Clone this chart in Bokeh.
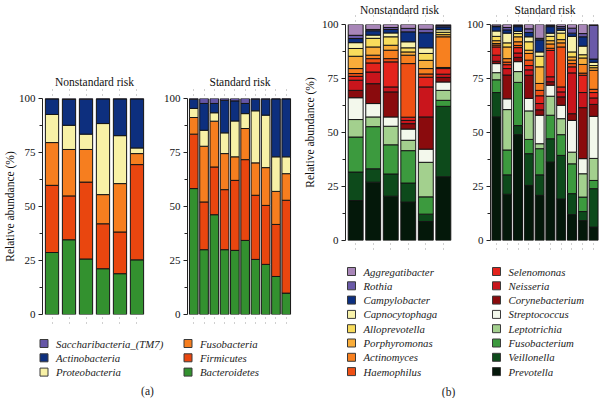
from bokeh.plotting import figure
from bokeh.models import Range1d, FixedTicker, LinearAxis, ColumnDataSource
from bokeh.layouts import row, column
from bokeh.embed import file_html
from bokeh.resources import INLINE
from bokeh.core.properties import value

FONT = "'Liberation Serif', 'DejaVu Serif', serif"

# Samples: 6 nonstandard-risk children followed by 10 standard-risk children
n_nonstandard = 6
n_standard = 10

# ---- (a) phylum level, relative abundance (%) ----
bacteroidetes = [28.7, 34.6, 25.7, 21.2, 18.9, 25.3, 58.3, 30.0, 46.2, 30.0, 29.7, 34.3, 25.5, 23.2, 17.6, 9.9]
firmicutes = [31.1, 20.3, 35.6, 20.8, 19.3, 44.1, 25.2, 22.1, 22.1, 27.8, 32.4, 37.4, 29.7, 27.3, 24.1, 43.0]
fusobacteria = [19.8, 21.5, 15.1, 13.5, 22.4, 5.1, 7.7, 25.8, 21.2, 16.7, 10.9, 14.4, 15.0, 17.5, 15.3, 12.3]
proteobacteria = [13.0, 11.2, 7.1, 32.9, 22.2, 2.6, 4.2, 7.4, 3.9, 9.6, 16.6, 6.9, 24.1, 24.3, 16.0, 7.8]
actinobacteria = [7.2, 12.0, 16.2, 11.4, 17.0, 22.7, 4.3, 12.4, 4.3, 15.1, 9.3, 4.7, 5.4, 7.4, 26.8, 26.8]
saccharibacteria = [0.2, 0.4, 0.3, 0.2, 0.2, 0.2, 0.3, 2.3, 2.3, 0.8, 1.1, 2.3, 0.3, 0.3, 0.2, 0.2]

phyla = ["Bacteroidetes", "Firmicutes", "Fusobacteria", "Proteobacteria",
         "Actinobacteria", "Saccharibacteria_(TM7)"]
phyla_values = [bacteroidetes, firmicutes, fusobacteria, proteobacteria,
                actinobacteria, saccharibacteria]
phyla_colors = ["#33912f", "#e9460f", "#f67e1f", "#f8f1a6", "#0d2f7e", "#6556a6"]

# ---- (b) genus level, relative abundance (%) ----
prevotella = [18.5, 27.0, 20.5, 17.8, 8.8, 29.5, 57.2, 21.4, 49.0, 25.5, 20.9, 36.3, 19.2, 12.0, 9.2, 6.2]
veillonella = [13.2, 6.2, 10.3, 8.8, 3.4, 32.6, 11.3, 9.0, 4.2, 14.7, 9.5, 10.8, 20.2, 9.7, 4.2, 17.8]
fusobacterium = [16.2, 19.5, 13.5, 15.0, 8.0, 2.8, 5.9, 11.5, 20.0, 6.6, 12.1, 10.9, 9.6, 13.8, 6.7, 3.8]
leptotrichia = [8.1, 4.5, 8.6, 4.8, 16.0, 4.6, 3.3, 18.7, 5.0, 13.2, 2.3, 8.8, 7.4, 5.4, 10.8, 10.2]
streptococcus = [10.1, 6.2, 4.3, 5.2, 6.1, 3.9, 4.2, 5.0, 4.6, 5.8, 13.2, 5.1, 6.2, 14.7, 7.0, 19.5]
corynebacterium = [3.4, 9.2, 11.6, 2.5, 14.9, 2.1, 1.1, 11.0, 2.0, 10.7, 2.5, 1.6, 3.9, 3.1, 23.6, 5.5]
neisseria = [4.7, 5.4, 2.3, 1.5, 13.9, 1.5, 2.8, 3.0, 2.0, 2.5, 2.9, 2.3, 2.3, 18.9, 7.0, 3.0]
selenomonas = [1.8, 4.2, 11.6, 1.5, 4.5, 2.6, 3.8, 1.8, 2.5, 2.0, 3.6, 12.2, 2.3, 2.8, 8.0, 2.5]
haemophilus = [1.3, 2.0, 1.5, 24.8, 1.5, 0.5, 0.9, 1.2, 1.0, 2.5, 2.5, 1.0, 18.5, 1.5, 1.0, 1.5]
actinomyces = [2.3, 1.6, 3.9, 3.9, 2.5, 14.2, 0.7, 1.6, 1.7, 3.1, 3.2, 2.0, 1.9, 1.6, 4.0, 8.8]
porphyromonas = [5.7, 3.8, 2.3, 1.5, 3.8, 1.0, 1.3, 5.4, 2.3, 1.5, 7.7, 1.5, 1.5, 1.5, 3.0, 1.2]
alloprevotella = [3.6, 4.0, 3.9, 1.9, 3.2, 1.1, 2.0, 1.9, 1.5, 3.9, 4.9, 2.0, 3.0, 2.3, 1.5, 1.0]
capnocytophaga = [2.7, 1.5, 1.8, 2.8, 2.6, 1.2, 2.5, 4.5, 1.0, 2.3, 2.0, 1.5, 1.3, 7.2, 4.0, 1.5]
campylobacter = [1.9, 2.0, 1.6, 4.6, 7.0, 1.3, 2.0, 1.5, 2.2, 2.0, 5.6, 3.0, 1.0, 1.5, 4.3, 1.5]
rothia = [1.5, 0.6, 0.9, 1.6, 1.6, 0.6, 0.3, 1.1, 0.5, 1.7, 0.7, 0.5, 0.8, 2.3, 1.5, 15.6]
aggregatibacter = [5.0, 2.3, 1.4, 1.8, 2.2, 0.5, 0.7, 1.4, 0.5, 2.0, 6.4, 0.5, 0.9, 1.7, 4.2, 0.4]

genera = ["Prevotella", "Veillonella", "Fusobacterium", "Leptotrichia", "Streptococcus",
          "Corynebacterium", "Neisseria", "Selenomonas", "Haemophilus", "Actinomyces",
          "Porphyromonas", "Alloprevotella", "Capnocytophaga", "Campylobacter", "Rothia",
          "Aggregatibacter"]
genera_values = [prevotella, veillonella, fusobacterium, leptotrichia, streptococcus,
                 corynebacterium, neisseria, selenomonas, haemophilus, actinomyces,
                 porphyromonas, alloprevotella, capnocytophaga, campylobacter, rothia,
                 aggregatibacter]
genera_colors = ["#04180a", "#0d4a1b", "#3c9a3e", "#a3d08e", "#f3f8ec",
                 "#8a0b0d", "#c9151c", "#e3231c", "#ef5015", "#f7801f",
                 "#f9ad3a", "#f8dc5c", "#f8f2aa", "#0c2f80", "#6a5aa8",
                 "#a886b8"]

nonstandard_idx = list(range(n_nonstandard))
standard_idx = list(range(n_nonstandard, n_nonstandard + n_standard))


def stacked_panel(title, names, series, colors, idx, width, height, x_range, bar_width,
                  border_left, border_right, border_top, border_bottom,
                  ylabel=None, label_standoff=0, title_standoff=0):
    data = {"x": list(range(len(idx)))}
    for name, vals in zip(names, series):
        data[name] = [vals[i] for i in idx]
    src = ColumnDataSource(data)

    p = figure(width=width, height=height, x_range=Range1d(*x_range), y_range=Range1d(0, 100),
               output_backend="svg", toolbar_location=None,
               min_border_left=border_left, min_border_right=border_right,
               min_border_top=border_top, min_border_bottom=border_bottom)
    p.vbar_stack(names, x="x", width=bar_width, source=src,
                 fill_color=colors, line_color="#151515", line_width=1)

    p.grid.visible = False
    p.outline_line_color = None
    p.background_fill_color = "white"
    p.border_fill_color = "white"

    # sample ticks drawn as faint dotted marks above and below the bars
    top_axis = LinearAxis()
    p.add_layout(top_axis, "above")
    for ax in p.xaxis:
        ax.ticker = FixedTicker(ticks=list(range(len(idx))))
        ax.major_label_overrides = {i: "" for i in range(len(idx))}
        ax.major_label_text_font_size = "0px"
        ax.major_label_standoff = 0
        ax.axis_line_color = None
        ax.major_tick_line_color = "#a0a0a0"
        ax.major_tick_line_dash = "1 4"
        ax.major_tick_out = 9
        ax.major_tick_in = 0
        ax.minor_tick_line_color = None

    yax = p.yaxis[0]
    yax.ticker = FixedTicker(ticks=[0, 25, 50, 75, 100], minor_ticks=[12.5, 37.5, 62.5, 87.5])
    yax.major_label_text_font = FONT
    yax.major_label_text_font_size = "11px"
    yax.major_label_text_color = "#111111"
    yax.major_label_standoff = 3
    yax.major_tick_out = 4
    yax.major_tick_in = 0
    yax.minor_tick_out = 3
    yax.minor_tick_in = 0
    yax.axis_line_color = "#222222"
    yax.major_tick_line_color = "#222222"
    yax.minor_tick_line_color = "#222222"
    if ylabel:
        yax.axis_label = ylabel
        yax.axis_label_text_font = FONT
        yax.axis_label_text_font_size = "11.5px"
        yax.axis_label_text_font_style = "normal"
        yax.axis_label_text_color = "#111111"
        yax.axis_label_standoff = label_standoff

    p.title.text = title
    p.title.align = "center"
    p.title.text_font = FONT
    p.title.text_font_size = "11.5px"
    p.title.text_font_style = "normal"
    p.title.text_color = "#111111"
    p.title.standoff = title_standoff
    return p


def legend_panel(width, height, left_names, right_names, color_of, col_x, text_dx, row_y0, row_dy,
                 caption, caption_xy):
    p = figure(width=width, height=height, x_range=Range1d(0, width), y_range=Range1d(height, 0),
               output_backend="svg", toolbar_location=None,
               x_axis_location=None, y_axis_location=None, min_border=0)
    p.grid.visible = False
    p.outline_line_color = None
    p.background_fill_color = "white"
    p.border_fill_color = "white"

    xs, ys, labels, fills = [], [], [], []
    for c, names in enumerate([left_names, right_names]):
        for r, name in enumerate(names):
            xs.append(col_x[c])
            ys.append(row_y0 + r * row_dy)
            labels.append(name)
            fills.append(color_of[name])
    src = ColumnDataSource(dict(x=xs, y=ys, tx=[x + text_dx for x in xs], label=labels, fill=fills))
    p.rect(x="x", y="y", width=8, height=8, width_units="screen", height_units="screen",
           fill_color="fill", line_color="#3a3a3a", line_width=1, source=src)
    p.text(x="tx", y="y", text="label", source=src, text_font=value(FONT),
           text_font_style="italic", text_font_size="10.8px", text_color="#222222",
           text_baseline="middle", text_align="left")
    p.text(x=[caption_xy[0]], y=[caption_xy[1]], text=[caption], text_font=value(FONT),
           text_font_size="11.5px", text_color="#222222", text_baseline="middle", text_align="center")
    return p


# ---- panel (a) ----
a_left = stacked_panel("Nonstandard risk", phyla, phyla_values, phyla_colors, nonstandard_idx,
                       160, 330, (-0.56, 5.56), 0.78, 37, 14, 98, 16,
                       ylabel="Relative abundance (%)", label_standoff=0, title_standoff=4)
a_right = stacked_panel("Standard risk", phyla, phyla_values, phyla_colors, standard_idx,
                        140, 330, (-0.61, 9.61), 0.84, 23, 8, 98, 16, title_standoff=4)
phyla_color_of = dict(zip(phyla, phyla_colors))
a_legend = legend_panel(300, 68, phyla[::-1][:3], phyla[::-1][3:], phyla_color_of,
                        (43.5, 187.5), 12, 13, 14.3, "(a)", (147, 60))

# ---- panel (b) ----
b_left = stacked_panel("Nonstandard risk", genera, genera_values, genera_colors, nonstandard_idx,
                       160, 262, (-0.58, 5.58), 0.85, 44, 7, 24, 22,
                       ylabel="Relative abundance (%)", label_standoff=3)
b_right = stacked_panel("Standard risk", genera, genera_values, genera_colors, standard_idx,
                        140, 262, (-0.55, 9.55), 0.83, 30, 1, 24, 22)
genera_color_of = dict(zip(genera, genera_colors))
b_legend = legend_panel(300, 136, genera[::-1][:8], genera[::-1][8:], genera_color_of,
                        (51, 196), 12, 9, 14.3, "(b)", (148, 129))

layout = row(column(row(a_left, a_right), a_legend),
             column(row(b_left, b_right), b_legend))

open("out.html", "w").write(file_html(layout, INLINE, title="Relative abundance"))
